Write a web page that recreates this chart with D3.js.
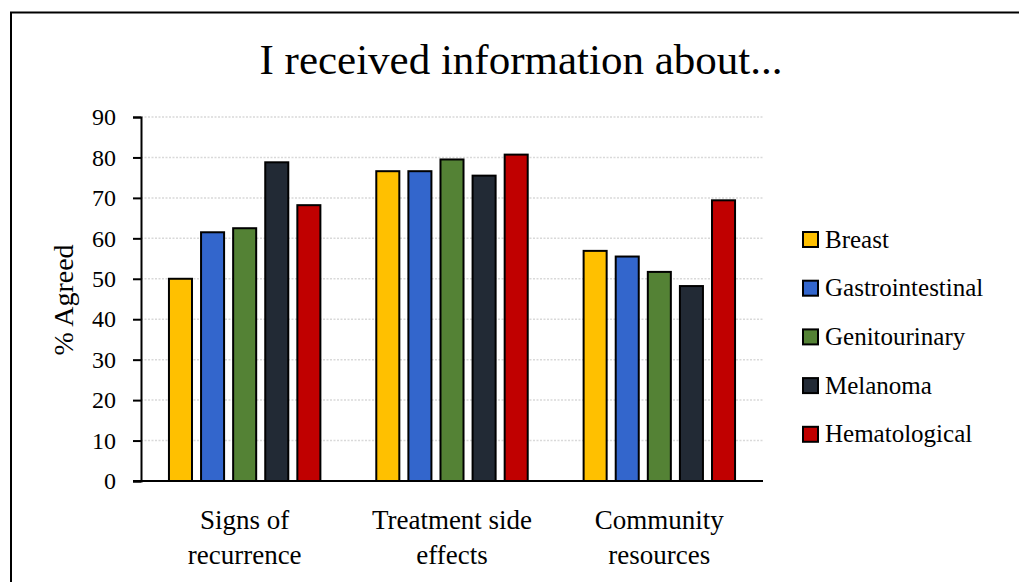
<!DOCTYPE html>
<meta charset="utf-8">
<html>
<style>
body { margin: 0; background: #fff; }
text { font-family: "Liberation Serif", "Times New Roman", serif; fill: #000; }
.grid line { stroke: #d9d9d9; stroke-width: 1.5; stroke-dasharray: 2,1.5; }
.bar { stroke: #000; stroke-width: 2; }
</style>
<body>
<script src="https://cdn.jsdelivr.net/npm/d3@7/dist/d3.min.js"></script>
<script>

// data
var categories = [["Signs of", "recurrence"], ["Treatment side", "effects"], ["Community", "resources"]];
var series = ["Breast", "Gastrointestinal", "Genitourinary", "Melanoma", "Hematological"];
var colors = ["#ffc000", "#3366cc", "#548235", "#222a35", "#c00000"];
var breast = [50, 76.6, 56.9];
var gastro = [61.5, 76.6, 55.5];
var genito = [62.5, 79.5, 51.7];
var melanoma = [78.8, 75.5, 48.2];
var hemato = [68.2, 80.7, 69.4];
var yTicks = [0, 10, 20, 30, 40, 50, 60, 70, 80, 90];

var values = [breast, gastro, genito, melanoma, hemato];
var width = 1019, height = 582;

var svg = d3.select("body").append("svg")
    .attr("width", width)
    .attr("height", height);

// frame round the chart (runs past the picture edge)
svg.append("rect")
    .attr("x", 11).attr("y", 12.5)
    .attr("width", 1030).attr("height", 600)
    .attr("fill", "none").attr("stroke", "#000").attr("stroke-width", 2);

var x0 = d3.scaleBand()
    .domain(d3.range(categories.length))
    .range([141, 763])
    .paddingInner(0.26)
    .paddingOuter(0.13);

var x1 = d3.scaleBand()
    .domain(series)
    .range([0, x0.bandwidth()])
    .paddingInner(0.22)
    .paddingOuter(0);

var y = d3.scaleLinear().domain([0, 90]).range([481, 117]);

// gridlines
svg.append("g").attr("class", "grid")
  .selectAll("line")
  .data(yTicks.slice(1))
  .enter().append("line")
    .attr("x1", 141).attr("x2", 763)
    .attr("y1", d => y(d)).attr("y2", d => y(d));

// bars
var rows = [];
categories.forEach(function(c, i) {
  series.forEach(function(s, j) {
    rows.push({cat: i, s: s, j: j, v: values[j][i]});
  });
});

svg.append("g").selectAll("rect")
  .data(rows)
  .enter().append("rect")
    .attr("class", "bar")
    .attr("x", d => x0(d.cat) + x1(d.s) + 1)
    .attr("y", d => y(d.v))
    .attr("width", x1.bandwidth() - 2)
    .attr("height", d => y(0) - y(d.v))
    .attr("fill", d => colors[d.j]);

// y axis
var yAxis = svg.append("g")
    .attr("transform", "translate(141,0)")
    .call(d3.axisLeft(y).tickValues(yTicks).tickSize(8).tickPadding(17));
yAxis.select(".domain").attr("stroke", "#000").attr("stroke-width", 2);
yAxis.selectAll(".tick line").attr("stroke", "#000").attr("stroke-width", 2);
yAxis.selectAll("text")
    .style("font-family", "'Liberation Serif', serif")
    .style("font-size", "24px")
    .attr("fill", "#000");

// x axis line
svg.append("line")
    .attr("x1", 133).attr("x2", 763)
    .attr("y1", y(0)).attr("y2", y(0))
    .attr("stroke", "#000").attr("stroke-width", 2);

// category labels
var cl = svg.append("g").selectAll("text")
  .data(categories)
  .enter().append("text")
    .attr("x", (d, i) => x0(i) + x0.bandwidth() / 2)
    .attr("y", 529)
    .attr("text-anchor", "middle")
    .style("font-size", "27px");
cl.selectAll("tspan")
  .data(d => d)
  .enter().append("tspan")
    .attr("x", function() { return this.parentNode.getAttribute("x"); })
    .attr("dy", (d, i) => i === 0 ? 0 : 35)
    .text(d => d);

// y axis title
svg.append("text")
    .attr("transform", "translate(73,300) rotate(-90)")
    .attr("text-anchor", "middle")
    .style("font-size", "28px")
    .text("% Agreed");

// title
svg.append("text")
    .attr("x", 521).attr("y", 74)
    .attr("text-anchor", "middle")
    .style("font-size", "43px")
    .text("I received information about...");

// legend
var legend = svg.append("g").selectAll("g")
  .data(series)
  .enter().append("g")
    .attr("transform", (d, i) => "translate(802," + (239.5 + i * 48.7) + ")");
legend.append("rect")
    .attr("x", 1).attr("y", -7.5)
    .attr("width", 15).attr("height", 15)
    .attr("fill", (d, i) => colors[i])
    .attr("stroke", "#000").attr("stroke-width", 2);
legend.append("text")
    .attr("x", 23).attr("y", 8)
    .style("font-size", "25px")
    .text(d => d);

</script>
</body>
</html>
